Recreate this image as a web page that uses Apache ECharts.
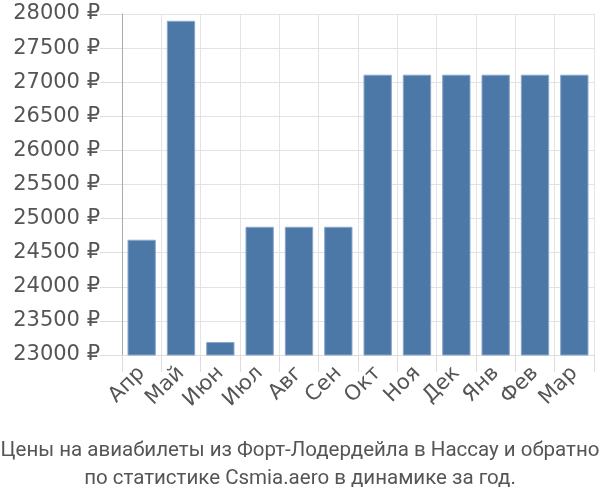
<!DOCTYPE html>
<html><head><meta charset="utf-8">
<script src="https://cdn.jsdelivr.net/npm/echarts@6/dist/echarts.min.js"></script>
<style>html,body{margin:0;padding:0;background:#fff}#c{width:600px;height:500px}</style>
</head><body><div id="c"></div>
<script>
const categories = ['Апр','Май','Июн','Июл','Авг','Сен','Окт','Ноя','Дек','Янв','Фев','Мар'];
const prices = [24690, 27900, 23190, 24880, 24880, 24880, 27110, 27110, 27110, 27110, 27110, 27110];
const titleLines = ['Цены на авиабилеты из Форт-Лодердейла в Нассау и обратно','по статистике Csmia.aero в динамике за год.'];
const chart = echarts.init(document.getElementById('c'));
chart.setOption({
  animation:false,
  title:{text:titleLines.join('\n'),left:'center',top:432,textStyle:{fontFamily:'Roboto',fontSize:20.5,fontWeight:'normal',color:'#555',lineHeight:28}},
  grid:{left:122,right:6,top:14,bottom:145},
  xAxis:{type:'category',data:categories,
    axisLine:{lineStyle:{color:'#ddd'}},
    axisTick:{show:true,length:17,lineStyle:{color:'#ddd'}},
    splitLine:{show:true,lineStyle:{color:'#e3e3e3',width:1}},
    axisLabel:{rotate:45,fontFamily:'DejaVu Sans',fontSize:21,color:'#555',margin:15,interval:0}},
  yAxis:{type:'value',min:23000,max:28000,interval:500,
    axisLine:{show:true,lineStyle:{color:'#aaa'}},
    axisTick:{show:true,length:22,lineStyle:{color:'#ddd'}},
    splitLine:{lineStyle:{color:'#e3e3e3'}},
    axisLabel:{formatter:v=>v+' ₽',fontFamily:'DejaVu Sans',fontSize:21,color:'#555',margin:22}},
  series:[{type:'bar',data:prices,barCategoryGap:'28%',
    itemStyle:{color:'#4c78a8',borderColor:'#8aa7c9',borderWidth:1}}]
});
</script></body></html>
